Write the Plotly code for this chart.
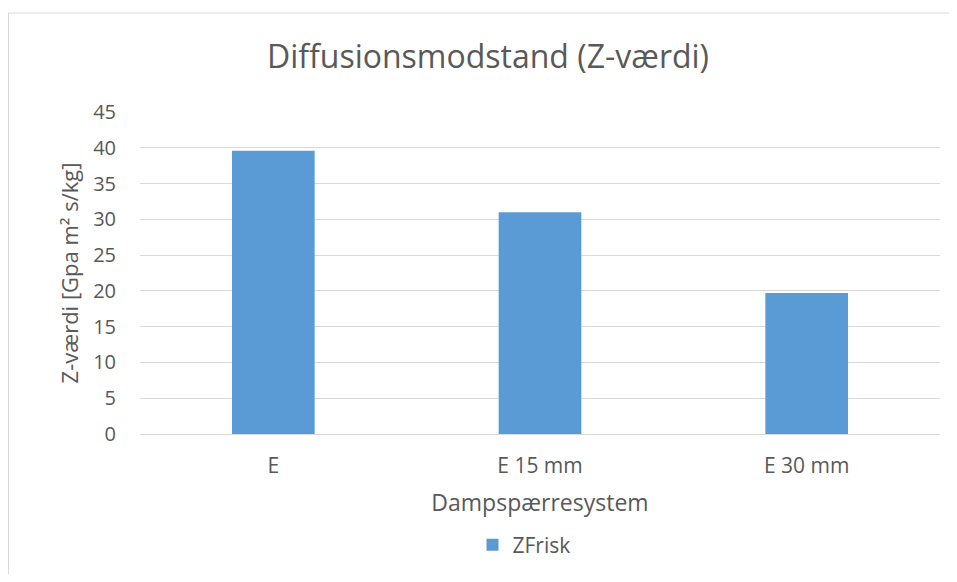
import plotly.graph_objects as go

categories = ["E", "E 15 mm", "E 30 mm"]
zfrisk = [39.6, 31.0, 19.7]
series_name = "ZFrisk"
y_ticks = [0, 5, 10, 15, 20, 25, 30, 35, 40, 45]

# page offset (browser body margin) compensation; keep figure inside window
O = 8
SW, SH = 957, 582          # screen size
W, H = SW - 2 * O, SH - 2 * O
# target plot area in screen coords
PX0, PX1, PY0, PY1 = 140, 940, 112, 434
L, R, T, B = PX0 - O, W - (PX1 - O), PY0 - O, H - (PY1 - O)

fig = go.Figure()
fig.add_trace(go.Bar(
    x=categories, y=zfrisk, name=series_name,
    marker=dict(color="#5b9bd5", line=dict(width=0)),
    width=0.31,
))

border = dict(color="#d9d9d9", width=1)
font_family = "'Open Sans', sans-serif"
fig.update_layout(
    width=W, height=H,
    margin=dict(l=L, r=R, t=T, b=B),
    paper_bgcolor="white", plot_bgcolor="white",
    font=dict(family=font_family, color="#595959", size=20),
    title=dict(text="Diffusionsmodstand (Z-værdi)", x=(488 - O) / W, xref="container",
               xanchor="center", y=1 - (57 - O) / H, yref="container", yanchor="middle",
               font=dict(size=32, color="#595959")),
    showlegend=True,
    legend=dict(orientation="h", x=(524 - O) / W, xref="container", xanchor="center",
                y=1 - (545 - O) / H, yref="container", yanchor="middle",
                font=dict(size=21, color="#595959")),
)
# outer chart frame (top and left edges visible in the window)
fig.add_shape(type="line", xref="paper", yref="paper",
              x0=-L / (W - L - R) + 0.5 / (W - L - R), x1=1 + R / (W - L - R),
              y0=1 + (PY0 - 13) / (PY1 - PY0), y1=1 + (PY0 - 13) / (PY1 - PY0),
              line=border, layer="below")
fig.add_shape(type="line", xref="paper", yref="paper",
              x0=-L / (W - L - R) + 0.5 / (W - L - R), x1=-L / (W - L - R) + 0.5 / (W - L - R),
              y0=-B / (PY1 - PY0), y1=1 + (PY0 - 13) / (PY1 - PY0),
              line=border, layer="below")
fig.update_xaxes(
    showgrid=False, showline=True, linecolor="#d9d9d9", linewidth=1,
    ticks="", tickfont=dict(size=21, color="#595959"), ticklabelstandoff=13,
    title=dict(text="Dampspærresystem", font=dict(size=23, color="#595959"), standoff=16),
)
fig.update_yaxes(
    range=[0, 45], tickvals=y_ticks, showgrid=True, gridcolor="#d9d9d9", gridwidth=1,
    zeroline=False, showline=False, ticks="", ticklabelstandoff=23,
    tickfont=dict(size=20, color="#595959"),
    title=dict(text="Z-værdi [Gpa m² s/kg]", font=dict(size=22, color="#595959"), standoff=8),
)
fig.write_html("out.html")
